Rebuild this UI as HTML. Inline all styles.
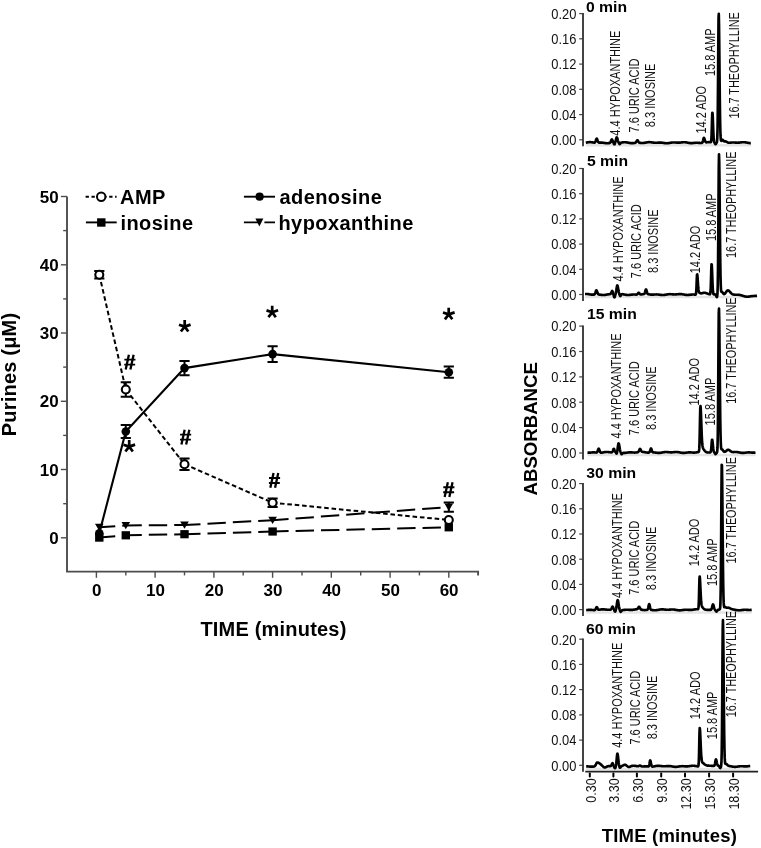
<!DOCTYPE html>
<html><head><meta charset="utf-8"><style>
html,body{margin:0;padding:0;background:#fff;}
svg{display:block;filter:grayscale(1);}
text{font-family:"Liberation Sans", sans-serif;fill:#000;}
.tl{font-size:17px;font-weight:bold;}
.tt{font-size:20px;font-weight:bold;}
.lg{font-size:20px;font-weight:bold;letter-spacing:0.45px;}
.yl{font-size:14.5px;fill:#111;}
.pt{font-size:15px;font-weight:bold;}
.pl{font-size:13.8px;fill:#111;}
.xl{font-size:14.5px;fill:#111;}
.rt{font-size:18.5px;font-weight:bold;letter-spacing:0.2px;}
</style></head><body>
<svg width="761" height="848" viewBox="0 0 761 848">
<rect width="761" height="848" fill="#fff"/>
<path d="M67.0,196.5 V571.6 H478.1 v3.8" fill="none" stroke="#4d4d4d" stroke-width="1.9"/>
<line x1="60.9" y1="537.8" x2="67.0" y2="537.8" stroke="#4d4d4d" stroke-width="1.4"/>
<line x1="63.2" y1="503.7" x2="67.0" y2="503.7" stroke="#4d4d4d" stroke-width="1.4"/>
<line x1="60.9" y1="469.5" x2="67.0" y2="469.5" stroke="#4d4d4d" stroke-width="1.4"/>
<line x1="63.2" y1="435.4" x2="67.0" y2="435.4" stroke="#4d4d4d" stroke-width="1.4"/>
<line x1="60.9" y1="401.3" x2="67.0" y2="401.3" stroke="#4d4d4d" stroke-width="1.4"/>
<line x1="63.2" y1="367.1" x2="67.0" y2="367.1" stroke="#4d4d4d" stroke-width="1.4"/>
<line x1="60.9" y1="333.0" x2="67.0" y2="333.0" stroke="#4d4d4d" stroke-width="1.4"/>
<line x1="63.2" y1="298.9" x2="67.0" y2="298.9" stroke="#4d4d4d" stroke-width="1.4"/>
<line x1="60.9" y1="264.8" x2="67.0" y2="264.8" stroke="#4d4d4d" stroke-width="1.4"/>
<line x1="63.2" y1="230.6" x2="67.0" y2="230.6" stroke="#4d4d4d" stroke-width="1.4"/>
<line x1="60.9" y1="196.5" x2="67.0" y2="196.5" stroke="#4d4d4d" stroke-width="1.4"/>
<text x="58.6" y="543.9" text-anchor="end" class="tl">0</text>
<text x="58.6" y="475.6" text-anchor="end" class="tl">10</text>
<text x="58.6" y="407.4" text-anchor="end" class="tl">20</text>
<text x="58.6" y="339.1" text-anchor="end" class="tl">30</text>
<text x="58.6" y="270.9" text-anchor="end" class="tl">40</text>
<text x="58.6" y="202.6" text-anchor="end" class="tl">50</text>
<line x1="96.4" y1="571.6" x2="96.4" y2="577.8000000000001" stroke="#4d4d4d" stroke-width="1.4"/>
<line x1="125.8" y1="571.6" x2="125.8" y2="575.4" stroke="#4d4d4d" stroke-width="1.4"/>
<line x1="155.1" y1="571.6" x2="155.1" y2="577.8000000000001" stroke="#4d4d4d" stroke-width="1.4"/>
<line x1="184.5" y1="571.6" x2="184.5" y2="575.4" stroke="#4d4d4d" stroke-width="1.4"/>
<line x1="213.9" y1="571.6" x2="213.9" y2="577.8000000000001" stroke="#4d4d4d" stroke-width="1.4"/>
<line x1="243.2" y1="571.6" x2="243.2" y2="575.4" stroke="#4d4d4d" stroke-width="1.4"/>
<line x1="272.6" y1="571.6" x2="272.6" y2="577.8000000000001" stroke="#4d4d4d" stroke-width="1.4"/>
<line x1="302.0" y1="571.6" x2="302.0" y2="575.4" stroke="#4d4d4d" stroke-width="1.4"/>
<line x1="331.3" y1="571.6" x2="331.3" y2="577.8000000000001" stroke="#4d4d4d" stroke-width="1.4"/>
<line x1="360.7" y1="571.6" x2="360.7" y2="575.4" stroke="#4d4d4d" stroke-width="1.4"/>
<line x1="390.1" y1="571.6" x2="390.1" y2="577.8000000000001" stroke="#4d4d4d" stroke-width="1.4"/>
<line x1="419.4" y1="571.6" x2="419.4" y2="575.4" stroke="#4d4d4d" stroke-width="1.4"/>
<line x1="448.8" y1="571.6" x2="448.8" y2="577.8000000000001" stroke="#4d4d4d" stroke-width="1.4"/>
<text x="96.7" y="595.8" text-anchor="middle" class="tl">0</text>
<text x="155.4" y="595.8" text-anchor="middle" class="tl">10</text>
<text x="214.2" y="595.8" text-anchor="middle" class="tl">20</text>
<text x="272.9" y="595.8" text-anchor="middle" class="tl">30</text>
<text x="331.6" y="595.8" text-anchor="middle" class="tl">40</text>
<text x="390.4" y="595.8" text-anchor="middle" class="tl">50</text>
<text x="449.1" y="595.8" text-anchor="middle" class="tl">60</text>
<text x="200.4" y="635.7" class="tt" letter-spacing="0.2">TIME (minutes)</text>
<text transform="translate(15.6,436.2) rotate(-90)" class="tt" letter-spacing="0.2">Purines (μM)</text>
<line x1="99.3" y1="537.6" x2="125.8" y2="535.3" stroke="#000" stroke-width="2" stroke-dasharray="18.4 7" stroke-dashoffset="2.4"/>
<line x1="125.8" y1="535.3" x2="184.5" y2="534.2" stroke="#000" stroke-width="2" stroke-dasharray="18.4 7" stroke-dashoffset="2.4"/>
<line x1="184.5" y1="534.2" x2="272.6" y2="531.5" stroke="#000" stroke-width="2" stroke-dasharray="18.4 7" stroke-dashoffset="2.4"/>
<line x1="272.6" y1="531.5" x2="448.8" y2="527.3" stroke="#000" stroke-width="2" stroke-dasharray="18.4 7" stroke-dashoffset="2.4"/>
<line x1="99.3" y1="527.2" x2="125.8" y2="525.5" stroke="#000" stroke-width="2" stroke-dasharray="18.4 7" stroke-dashoffset="2.4"/>
<line x1="125.8" y1="525.5" x2="184.5" y2="525.0" stroke="#000" stroke-width="2" stroke-dasharray="18.4 7" stroke-dashoffset="2.4"/>
<line x1="184.5" y1="525.0" x2="272.6" y2="520.2" stroke="#000" stroke-width="2" stroke-dasharray="18.4 7" stroke-dashoffset="2.4"/>
<line x1="272.6" y1="520.2" x2="448.8" y2="507.1" stroke="#000" stroke-width="2" stroke-dasharray="18.4 7" stroke-dashoffset="2.4"/>
<line x1="99.3" y1="274.7" x2="125.8" y2="389.5" stroke="#000" stroke-width="2" stroke-dasharray="4.6 2.8" stroke-dashoffset="0"/>
<line x1="125.8" y1="389.5" x2="184.5" y2="464.2" stroke="#000" stroke-width="2" stroke-dasharray="4.6 2.8" stroke-dashoffset="0"/>
<line x1="184.5" y1="464.2" x2="272.6" y2="502.7" stroke="#000" stroke-width="2" stroke-dasharray="4.6 2.8" stroke-dashoffset="0"/>
<line x1="272.6" y1="502.7" x2="448.8" y2="520.0" stroke="#000" stroke-width="2" stroke-dasharray="4.6 2.8" stroke-dashoffset="0"/>
<polyline points="99.3,533.2 125.8,431.5 184.5,368.1 272.6,354.1 448.8,372.2" fill="none" stroke="#000" stroke-width="2.1"/>
<path d="M448.8,502.5 V511.7 M443.7,502.5 h10.2 M443.7,511.7 h10.2" stroke="#000" stroke-width="2" fill="none"/>
<path d="M99.3,271.0 V278.4 M94.2,271.0 h10.2 M94.2,278.4 h10.2" stroke="#000" stroke-width="2" fill="none"/>
<path d="M125.8,382.2 V396.8 M120.7,382.2 h10.2 M120.7,396.8 h10.2" stroke="#000" stroke-width="2" fill="none"/>
<path d="M184.5,458.4 V469.9 M179.4,458.4 h10.2 M179.4,469.9 h10.2" stroke="#000" stroke-width="2" fill="none"/>
<path d="M272.6,498.4 V507.0 M267.5,498.4 h10.2 M267.5,507.0 h10.2" stroke="#000" stroke-width="2" fill="none"/>
<path d="M125.8,424.9 V438.1 M120.7,424.9 h10.2 M120.7,438.1 h10.2" stroke="#000" stroke-width="2" fill="none"/>
<path d="M184.5,361.0 V375.2 M179.4,361.0 h10.2 M179.4,375.2 h10.2" stroke="#000" stroke-width="2" fill="none"/>
<path d="M272.6,346.2 V362.1 M267.5,346.2 h10.2 M267.5,362.1 h10.2" stroke="#000" stroke-width="2" fill="none"/>
<path d="M448.8,366.6 V377.8 M443.7,366.6 h10.2 M443.7,377.8 h10.2" stroke="#000" stroke-width="2" fill="none"/>
<rect x="95.1" y="533.5" width="8.4" height="8.2" fill="#000"/>
<rect x="121.6" y="531.2" width="8.4" height="8.2" fill="#000"/>
<rect x="180.3" y="530.1" width="8.4" height="8.2" fill="#000"/>
<rect x="268.4" y="527.4" width="8.4" height="8.2" fill="#000"/>
<rect x="444.6" y="523.2" width="8.4" height="8.2" fill="#000"/>
<path d="M95.0,523.7 h8.6 l-4.3,7.3 z" fill="#000"/>
<path d="M121.5,522.0 h8.6 l-4.3,7.3 z" fill="#000"/>
<path d="M180.2,521.5 h8.6 l-4.3,7.3 z" fill="#000"/>
<path d="M268.3,516.7 h8.6 l-4.3,7.3 z" fill="#000"/>
<path d="M444.5,503.6 h8.6 l-4.3,7.3 z" fill="#000"/>
<circle cx="99.3" cy="274.7" r="4.0" fill="#fff" stroke="#000" stroke-width="2.1"/>
<circle cx="125.8" cy="389.5" r="4.0" fill="#fff" stroke="#000" stroke-width="2.1"/>
<circle cx="184.5" cy="464.2" r="4.0" fill="#fff" stroke="#000" stroke-width="2.1"/>
<circle cx="272.6" cy="502.7" r="4.0" fill="#fff" stroke="#000" stroke-width="2.1"/>
<circle cx="448.8" cy="520.0" r="4.0" fill="#fff" stroke="#000" stroke-width="2.1"/>
<circle cx="99.3" cy="533.2" r="4.3" fill="#000"/>
<circle cx="125.8" cy="431.5" r="4.3" fill="#000"/>
<circle cx="184.5" cy="368.1" r="4.3" fill="#000"/>
<circle cx="272.6" cy="354.1" r="4.3" fill="#000"/>
<circle cx="448.8" cy="372.2" r="4.3" fill="#000"/>
<path d="M128.90,354.70 L125.70,369.40 M133.60,354.70 L130.40,369.40" stroke="#000" stroke-width="2.3" fill="none"/><path d="M124.35,359.60 H135.45 M124.25,364.60 H135.15" stroke="#000" stroke-width="1.9" fill="none"/>
<path d="M184.65,429.70 L181.45,444.40 M189.35,429.70 L186.15,444.40" stroke="#000" stroke-width="2.3" fill="none"/><path d="M180.10,434.60 H191.20 M180.00,439.60 H190.90" stroke="#000" stroke-width="1.9" fill="none"/>
<path d="M273.55,473.10 L270.35,487.80 M278.25,473.10 L275.05,487.80" stroke="#000" stroke-width="2.3" fill="none"/><path d="M269.00,478.00 H280.10 M268.90,483.00 H279.80" stroke="#000" stroke-width="1.9" fill="none"/>
<path d="M447.85,482.30 L444.65,497.00 M452.55,482.30 L449.35,497.00" stroke="#000" stroke-width="2.3" fill="none"/><path d="M443.30,487.20 H454.40 M443.20,492.20 H454.10" stroke="#000" stroke-width="1.9" fill="none"/>
<path d="M129.20,446.60 L129.20,440.00 M129.20,446.60 L123.50,444.70 M129.20,446.60 L135.10,444.60 M129.20,446.60 L125.40,451.50 M129.20,446.60 L132.80,451.50" stroke="#000" stroke-width="2.7" fill="none"/>
<path d="M184.70,326.60 L184.70,320.00 M184.70,326.60 L179.00,324.70 M184.70,326.60 L190.60,324.60 M184.70,326.60 L180.90,331.50 M184.70,326.60 L188.30,331.50" stroke="#000" stroke-width="2.7" fill="none"/>
<path d="M272.20,312.30 L272.20,305.70 M272.20,312.30 L266.50,310.40 M272.20,312.30 L278.10,310.30 M272.20,312.30 L268.40,317.20 M272.20,312.30 L275.80,317.20" stroke="#000" stroke-width="2.7" fill="none"/>
<path d="M448.70,314.40 L448.70,307.80 M448.70,314.40 L443.00,312.50 M448.70,314.40 L454.60,312.40 M448.70,314.40 L444.90,319.30 M448.70,314.40 L452.30,319.30" stroke="#000" stroke-width="2.7" fill="none"/>
<line x1="85.6" y1="196.7" x2="116.6" y2="196.7" stroke="#000" stroke-width="1.9" stroke-dasharray="3.3 2.6"/>
<circle cx="101.2" cy="196.7" r="4.2" fill="#fff" stroke="#000" stroke-width="2"/>
<text x="120.1" y="203.9" class="lg">AMP</text>
<line x1="85.9" y1="222.4" x2="116.7" y2="222.4" stroke="#000" stroke-width="1.9"/>
<rect x="97.1" y="218.3" width="8.4" height="8.4" fill="#000"/>
<text x="120.4" y="229.9" class="lg">inosine</text>
<line x1="243.9" y1="196.7" x2="275" y2="196.7" stroke="#000" stroke-width="1.9"/>
<circle cx="259.6" cy="196.7" r="4.1" fill="#000"/>
<text x="279.4" y="203.9" class="lg">adenosine</text>
<line x1="243.9" y1="222.4" x2="275" y2="222.4" stroke="#000" stroke-width="1.9" stroke-dasharray="14.5 6"/>
<path d="M255.4,218.4 h8 l-4,8 z" fill="#000"/>
<text x="278.4" y="229.9" class="lg">hypoxanthine</text>
<line x1="579.2" y1="139.8" x2="583.0" y2="139.8" stroke="#444" stroke-width="1.2"/>
<text transform="translate(576.4,145.1) scale(0.89,1)" text-anchor="end" class="yl">0.00</text>
<line x1="579.2" y1="114.6" x2="583.0" y2="114.6" stroke="#444" stroke-width="1.2"/>
<text transform="translate(576.4,119.9) scale(0.89,1)" text-anchor="end" class="yl">0.04</text>
<line x1="579.2" y1="89.3" x2="583.0" y2="89.3" stroke="#444" stroke-width="1.2"/>
<text transform="translate(576.4,94.6) scale(0.89,1)" text-anchor="end" class="yl">0.08</text>
<line x1="579.2" y1="64.1" x2="583.0" y2="64.1" stroke="#444" stroke-width="1.2"/>
<text transform="translate(576.4,69.4) scale(0.89,1)" text-anchor="end" class="yl">0.12</text>
<line x1="579.2" y1="38.8" x2="583.0" y2="38.8" stroke="#444" stroke-width="1.2"/>
<text transform="translate(576.4,44.1) scale(0.89,1)" text-anchor="end" class="yl">0.16</text>
<line x1="579.2" y1="13.6" x2="583.0" y2="13.6" stroke="#444" stroke-width="1.2"/>
<text transform="translate(576.4,18.9) scale(0.89,1)" text-anchor="end" class="yl">0.20</text>
<line x1="583.0" y1="13.0" x2="583.0" y2="146.3" stroke="#3a3a3a" stroke-width="1.9"/>
<text transform="translate(586.0,12.2) scale(1.05,1)" class="pt">0 min</text>
<line x1="585.8" y1="145.3" x2="750.8" y2="145.3" stroke="#e4e4e4" stroke-width="2.5"/>
<polyline points="585.80,142.69 586.05,142.64 586.30,142.60 586.55,142.55 586.80,142.51 587.05,142.46 587.30,142.42 587.55,142.38 587.80,142.34 588.05,142.30 588.30,142.27 588.55,142.24 588.80,142.21 589.05,142.19 589.30,142.18 589.55,142.16 589.80,142.16 590.05,142.16 590.30,142.16 590.55,142.17 590.80,142.19 591.05,142.20 591.30,142.23 591.55,142.25 591.80,142.28 592.05,142.32 592.30,142.35 592.55,142.39 592.80,142.43 593.05,142.47 593.30,142.51 593.55,142.55 593.80,142.58 594.05,142.60 594.30,142.61 594.55,142.57 594.80,142.47 595.05,142.24 595.30,141.85 595.55,141.29 595.80,140.56 596.05,139.78 596.30,139.10 596.55,138.69 596.80,138.64 597.05,138.99 597.30,139.63 597.55,140.40 597.80,141.14 598.05,141.75 598.30,142.18 598.55,142.44 598.80,142.58 599.05,142.64 599.30,142.65 599.55,142.65 599.80,142.64 600.05,142.64 600.30,142.63 600.55,142.62 600.80,142.62 601.05,142.62 601.30,142.63 601.55,142.63 601.80,142.65 602.05,142.66 602.30,142.68 602.55,142.71 602.80,142.73 603.05,142.76 603.30,142.80 603.55,142.83 603.80,142.87 604.05,142.91 604.30,142.94 604.55,142.98 604.80,143.02 605.05,143.05 605.30,143.09 605.55,143.12 605.80,143.15 606.05,143.17 606.30,143.19 606.55,143.21 606.80,143.22 607.05,143.23 607.30,143.23 607.55,143.23 607.80,143.22 608.05,143.21 608.30,143.19 608.55,143.17 608.80,143.14 609.05,143.11 609.30,143.07 609.55,143.02 609.80,142.94 610.05,142.81 610.30,142.58 610.55,142.19 610.80,141.63 611.05,140.91 611.30,140.17 611.55,139.59 611.80,139.34 612.05,139.51 612.30,140.01 612.55,140.69 612.80,141.37 613.05,141.97 613.30,142.50 613.55,143.02 613.80,143.58 614.05,144.07 614.30,144.34 614.55,144.25 614.80,143.79 615.05,143.06 615.30,142.19 615.55,141.23 615.80,140.22 616.05,139.18 616.30,138.24 616.55,137.58 616.80,137.35 617.05,137.61 617.30,138.31 617.55,139.26 617.80,140.25 618.05,141.14 618.30,141.85 618.55,142.42 618.80,142.92 619.05,143.40 619.30,143.83 619.55,144.10 619.80,144.13 620.05,143.90 620.30,143.54 620.55,143.16 620.80,142.87 621.05,142.68 621.30,142.58 621.55,142.52 621.80,142.49 622.05,142.46 622.30,142.43 622.55,142.40 622.80,142.37 623.05,142.35 623.30,142.32 623.55,142.30 623.80,142.29 624.05,142.27 624.30,142.26 624.55,142.26 624.80,142.26 625.05,142.26 625.30,142.27 625.55,142.29 625.80,142.31 626.05,142.33 626.30,142.36 626.55,142.39 626.80,142.43 627.05,142.47 627.30,142.51 627.55,142.55 627.80,142.60 628.05,142.65 628.30,142.70 628.55,142.75 628.80,142.79 629.05,142.84 629.30,142.89 629.55,142.93 629.80,142.97 630.05,143.01 630.30,143.04 630.55,143.07 630.80,143.09 631.05,143.11 631.30,143.13 631.55,143.14 631.80,143.14 632.05,143.14 632.30,143.14 632.55,143.13 632.80,143.12 633.05,143.10 633.30,143.08 633.55,143.06 633.80,143.03 634.05,143.01 634.30,142.98 634.55,142.95 634.80,142.91 635.05,142.86 635.30,142.79 635.55,142.67 635.80,142.48 636.05,142.19 636.30,141.81 636.55,141.34 636.80,140.86 637.05,140.47 637.30,140.25 637.55,140.28 637.80,140.53 638.05,140.94 638.30,141.42 638.55,141.87 638.80,142.24 639.05,142.49 639.30,142.66 639.55,142.76 639.80,142.82 640.05,142.86 640.30,142.89 640.55,142.91 640.80,142.93 641.05,142.95 641.30,142.96 641.55,142.97 641.80,142.98 642.05,142.99 642.30,142.99 642.55,142.98 642.80,142.98 643.05,142.96 643.30,142.95 643.55,142.93 643.80,142.90 644.05,142.87 644.30,142.84 644.55,142.80 644.80,142.76 645.05,142.72 645.30,142.68 645.55,142.63 645.80,142.59 646.05,142.54 646.30,142.50 646.55,142.45 646.80,142.41 647.05,142.37 647.30,142.33 647.55,142.29 647.80,142.26 648.05,142.23 648.30,142.21 648.55,142.19 648.80,142.18 649.05,142.17 649.30,142.17 649.55,142.17 649.80,142.17 650.05,142.19 650.30,142.20 650.55,142.22 650.80,142.25 651.05,142.28 651.30,142.31 651.55,142.34 651.80,142.38 652.05,142.41 652.30,142.45 652.55,142.49 652.80,142.53 653.05,142.56 653.30,142.60 653.55,142.63 653.80,142.66 654.05,142.69 654.30,142.71 654.55,142.73 654.80,142.75 655.05,142.76 655.30,142.77 655.55,142.78 655.80,142.78 656.05,142.78 656.30,142.77 656.55,142.77 656.80,142.75 657.05,142.74 657.30,142.73 657.55,142.71 657.80,142.69 658.05,142.68 658.30,142.66 658.55,142.64 658.80,142.63 659.05,142.61 659.30,142.60 659.55,142.59 659.80,142.59 660.05,142.59 660.30,142.59 660.55,142.59 660.80,142.60 661.05,142.62 661.30,142.63 661.55,142.66 661.80,142.68 662.05,142.71 662.30,142.74 662.55,142.77 662.80,142.81 663.05,142.85 663.30,142.89 663.55,142.93 663.80,142.96 664.05,143.00 664.30,143.04 664.55,143.08 664.80,143.11 665.05,143.14 665.30,143.17 665.55,143.19 665.80,143.21 666.05,143.23 666.30,143.24 666.55,143.24 666.80,143.24 667.05,143.24 667.30,143.23 667.55,143.21 667.80,143.19 668.05,143.17 668.30,143.14 668.55,143.10 668.80,143.07 669.05,143.03 669.30,142.99 669.55,142.94 669.80,142.90 670.05,142.85 670.30,142.81 670.55,142.76 670.80,142.72 671.05,142.68 671.30,142.64 671.55,142.60 671.80,142.57 672.05,142.54 672.30,142.51 672.55,142.49 672.80,142.48 673.05,142.46 673.30,142.45 673.55,142.45 673.80,142.45 674.05,142.45 674.30,142.46 674.55,142.47 674.80,142.48 675.05,142.50 675.30,142.51 675.55,142.53 675.80,142.55 676.05,142.57 676.30,142.59 676.55,142.61 676.80,142.63 677.05,142.64 677.30,142.66 677.55,142.67 677.80,142.68 678.05,142.68 678.30,142.68 678.55,142.68 678.80,142.67 679.05,142.66 679.30,142.65 679.55,142.63 679.80,142.61 680.05,142.59 680.30,142.57 680.55,142.54 680.80,142.51 681.05,142.48 681.30,142.45 681.55,142.42 681.80,142.39 682.05,142.36 682.30,142.33 682.55,142.31 682.80,142.29 683.05,142.27 683.30,142.25 683.55,142.24 683.80,142.24 684.05,142.23 684.30,142.24 684.55,142.24 684.80,142.26 685.05,142.27 685.30,142.30 685.55,142.32 685.80,142.35 686.05,142.39 686.30,142.43 686.55,142.47 686.80,142.51 687.05,142.56 687.30,142.61 687.55,142.66 687.80,142.70 688.05,142.75 688.30,142.80 688.55,142.85 688.80,142.89 689.05,142.93 689.30,142.97 689.55,143.00 689.80,143.03 690.05,143.06 690.30,143.08 690.55,143.09 690.80,143.11 691.05,143.11 691.30,143.11 691.55,143.11 691.80,143.11 692.05,143.09 692.30,143.08 692.55,143.06 692.80,143.04 693.05,143.02 693.30,142.99 693.55,142.97 693.80,142.94 694.05,142.91 694.30,142.89 694.55,142.86 694.80,142.84 695.05,142.82 695.30,142.80 695.55,142.78 695.80,142.77 696.05,142.76 696.30,142.75 696.55,142.74 696.80,142.74 697.05,142.75 697.30,142.75 697.55,142.76 697.80,142.78 698.05,142.79 698.30,142.81 698.55,142.83 698.80,142.85 699.05,142.87 699.30,142.90 699.55,142.92 699.80,142.94 700.05,142.96 700.30,142.98 700.55,142.99 700.80,143.00 701.05,143.01 701.30,143.01 701.55,143.00 701.80,142.96 702.05,142.86 702.30,142.63 702.55,142.21 702.80,141.51 703.05,140.55 703.30,139.45 703.55,138.47 703.80,137.89 704.05,137.89 704.30,138.35 704.55,139.12 704.80,140.02 705.05,140.85 705.30,141.50 705.55,141.93 705.80,142.19 706.05,142.30 706.30,142.34 706.55,142.34 706.80,142.31 707.05,142.28 707.30,142.26 707.55,142.23 707.80,142.21 708.05,142.19 708.30,142.18 708.55,142.18 708.80,142.18 709.05,142.18 709.30,142.19 709.55,142.21 709.80,142.23 710.05,142.25 710.30,142.27 710.55,142.27 710.80,142.15 711.05,141.58 711.30,139.71 711.55,135.30 711.80,127.73 712.05,118.79 712.30,112.84 712.55,113.07 712.80,117.54 713.05,124.26 713.30,131.05 713.55,136.35 713.80,139.73 714.05,141.53 714.30,142.36 714.55,142.78 714.80,143.13 715.05,143.56 715.30,144.00 715.55,144.23 715.80,144.12 716.05,143.72 716.30,143.26 716.55,142.88 716.80,142.43 717.05,141.24 717.30,137.56 717.55,128.04 717.80,108.58 718.05,78.03 718.30,42.94 718.55,17.51 718.80,13.91 719.05,26.14 719.30,48.28 719.55,74.23 719.80,98.21 720.05,116.73 720.30,128.98 720.55,135.96 720.80,139.34 721.05,140.64 721.30,140.90 721.55,140.70 721.80,140.36 722.05,140.04 722.30,139.83 722.55,139.78 722.80,139.89 723.05,140.14 723.30,140.47 723.55,140.82 723.80,141.11 724.05,141.33 724.30,141.45 724.55,141.48 724.80,141.46 725.05,141.41 725.30,141.39 725.55,141.41 725.80,141.46 726.05,141.55 726.30,141.65 726.55,141.79 726.80,141.93 727.05,142.08 727.30,142.23 727.55,142.36 727.80,142.48 728.05,142.58 728.30,142.66 728.55,142.72 728.80,142.76 729.05,142.77 729.30,142.78 729.55,142.77 729.80,142.75 730.05,142.72 730.30,142.69 730.55,142.66 730.80,142.63 731.05,142.60 731.30,142.57 731.55,142.55 731.80,142.53 732.05,142.51 732.30,142.50 732.55,142.49 732.80,142.48 733.05,142.48 733.30,142.49 733.55,142.49 733.80,142.50 734.05,142.51 734.30,142.53 734.55,142.55 734.80,142.56 735.05,142.58 735.30,142.60 735.55,142.62 735.80,142.64 736.05,142.65 736.30,142.67 736.55,142.68 736.80,142.69 737.05,142.70 737.30,142.70 737.55,142.70 737.80,142.70 738.05,142.69 738.30,142.68 738.55,142.66 738.80,142.65 739.05,142.62 739.30,142.60 739.55,142.57 739.80,142.55 740.05,142.52 740.30,142.48 740.55,142.45 740.80,142.42 741.05,142.39 741.30,142.36 741.55,142.33 741.80,142.30 742.05,142.28 742.30,142.26 742.55,142.24 742.80,142.23 743.05,142.22 743.30,142.21 743.55,142.21 743.80,142.22 744.05,142.23 744.30,142.25 744.55,142.27 744.80,142.29 745.05,142.32 745.30,142.35 745.55,142.39 745.80,142.43 746.05,142.48 746.30,142.52 746.55,142.57 746.80,142.62 747.05,142.66 747.30,142.71 747.55,142.76 747.80,142.81 748.05,142.85 748.30,142.89 748.55,142.93 748.80,142.96 749.05,142.99 749.30,143.02 749.55,143.04 749.80,143.06 750.05,143.07 750.30,143.08 750.55,143.09 750.80,143.08" fill="none" stroke="#000" stroke-width="2.65" stroke-linejoin="round"/>
<line x1="579.2" y1="294.5" x2="583.0" y2="294.5" stroke="#444" stroke-width="1.2"/>
<text transform="translate(576.4,299.8) scale(0.89,1)" text-anchor="end" class="yl">0.00</text>
<line x1="579.2" y1="269.3" x2="583.0" y2="269.3" stroke="#444" stroke-width="1.2"/>
<text transform="translate(576.4,274.6) scale(0.89,1)" text-anchor="end" class="yl">0.04</text>
<line x1="579.2" y1="244.1" x2="583.0" y2="244.1" stroke="#444" stroke-width="1.2"/>
<text transform="translate(576.4,249.4) scale(0.89,1)" text-anchor="end" class="yl">0.08</text>
<line x1="579.2" y1="218.9" x2="583.0" y2="218.9" stroke="#444" stroke-width="1.2"/>
<text transform="translate(576.4,224.2) scale(0.89,1)" text-anchor="end" class="yl">0.12</text>
<line x1="579.2" y1="193.7" x2="583.0" y2="193.7" stroke="#444" stroke-width="1.2"/>
<text transform="translate(576.4,199.0) scale(0.89,1)" text-anchor="end" class="yl">0.16</text>
<line x1="579.2" y1="168.5" x2="583.0" y2="168.5" stroke="#444" stroke-width="1.2"/>
<text transform="translate(576.4,173.8) scale(0.89,1)" text-anchor="end" class="yl">0.20</text>
<line x1="583.0" y1="167.9" x2="583.0" y2="301.0" stroke="#3a3a3a" stroke-width="1.9"/>
<text transform="translate(587.0,165.8) scale(1.05,1)" class="pt">5 min</text>
<line x1="585.0" y1="297.1" x2="757.0" y2="297.1" stroke="#e4e4e4" stroke-width="2.5"/>
<polyline points="585.00,293.99 585.25,293.98 585.50,293.96 585.75,293.95 586.00,293.95 586.25,293.95 586.50,293.96 586.75,293.97 587.00,293.99 587.25,294.01 587.50,294.04 587.75,294.06 588.00,294.10 588.25,294.13 588.50,294.17 588.75,294.21 589.00,294.25 589.25,294.30 589.50,294.34 589.75,294.38 590.00,294.42 590.25,294.46 590.50,294.50 590.75,294.53 591.00,294.56 591.25,294.59 591.50,294.61 591.75,294.63 592.00,294.65 592.25,294.66 592.50,294.67 592.75,294.67 593.00,294.67 593.25,294.67 593.50,294.66 593.75,294.63 594.00,294.59 594.25,294.51 594.50,294.36 594.75,294.09 595.00,293.66 595.25,293.06 595.50,292.31 595.75,291.50 596.00,290.80 596.25,290.37 596.50,290.32 596.75,290.66 597.00,291.30 597.25,292.08 597.50,292.84 597.75,293.47 598.00,293.92 598.25,294.21 598.50,294.39 598.75,294.48 599.00,294.54 599.25,294.58 599.50,294.62 599.75,294.65 600.00,294.68 600.25,294.72 600.50,294.75 600.75,294.79 601.00,294.82 601.25,294.85 601.50,294.89 601.75,294.91 602.00,294.94 602.25,294.96 602.50,294.98 602.75,294.99 603.00,295.00 603.25,295.01 603.50,295.01 603.75,295.01 604.00,295.00 604.25,294.98 604.50,294.96 604.75,294.94 605.00,294.91 605.25,294.87 605.50,294.84 605.75,294.80 606.00,294.75 606.25,294.71 606.50,294.66 606.75,294.62 607.00,294.57 607.25,294.52 607.50,294.47 607.75,294.43 608.00,294.39 608.25,294.34 608.50,294.31 608.75,294.27 609.00,294.24 609.25,294.22 609.50,294.19 609.75,294.17 610.00,294.14 610.25,294.09 610.50,293.98 610.75,293.77 611.00,293.40 611.25,292.85 611.50,292.18 611.75,291.51 612.00,291.05 612.25,290.95 612.50,291.27 612.75,291.92 613.00,292.78 613.25,293.73 613.50,294.73 613.75,295.75 614.00,296.67 614.25,297.26 614.50,297.35 614.75,296.90 615.00,296.12 615.25,295.21 615.50,294.30 615.75,293.33 616.00,292.15 616.25,290.70 616.50,289.03 616.75,287.39 617.00,286.10 617.25,285.49 617.50,285.67 617.75,286.48 618.00,287.73 618.25,289.19 618.50,290.62 618.75,291.87 619.00,292.90 619.25,293.76 619.50,294.54 619.75,295.24 620.00,295.80 620.25,296.07 620.50,295.99 620.75,295.61 621.00,295.12 621.25,294.68 621.50,294.40 621.75,294.25 622.00,294.20 622.25,294.19 622.50,294.22 622.75,294.25 623.00,294.28 623.25,294.32 623.50,294.36 623.75,294.41 624.00,294.46 624.25,294.50 624.50,294.55 624.75,294.60 625.00,294.65 625.25,294.70 625.50,294.74 625.75,294.78 626.00,294.82 626.25,294.86 626.50,294.89 626.75,294.92 627.00,294.94 627.25,294.96 627.50,294.97 627.75,294.98 628.00,294.98 628.25,294.98 628.50,294.97 628.75,294.96 629.00,294.95 629.25,294.93 629.50,294.91 629.75,294.88 630.00,294.85 630.25,294.83 630.50,294.79 630.75,294.76 631.00,294.73 631.25,294.70 631.50,294.67 631.75,294.64 632.00,294.61 632.25,294.59 632.50,294.57 632.75,294.55 633.00,294.53 633.25,294.52 633.50,294.51 633.75,294.51 634.00,294.50 634.25,294.51 634.50,294.51 634.75,294.52 635.00,294.53 635.25,294.55 635.50,294.56 635.75,294.58 636.00,294.59 636.25,294.60 636.50,294.59 636.75,294.55 637.00,294.46 637.25,294.30 637.50,294.05 637.75,293.72 638.00,293.36 638.25,293.02 638.50,292.79 638.75,292.73 639.00,292.85 639.25,293.12 639.50,293.47 639.75,293.82 640.00,294.11 640.25,294.31 640.50,294.43 640.75,294.47 641.00,294.48 641.25,294.46 641.50,294.43 641.75,294.39 642.00,294.34 642.25,294.30 642.50,294.25 642.75,294.21 643.00,294.17 643.25,294.13 643.50,294.09 643.75,294.04 644.00,293.95 644.25,293.80 644.50,293.52 644.75,293.04 645.00,292.30 645.25,291.36 645.50,290.39 645.75,289.64 646.00,289.37 646.25,289.67 646.50,290.44 646.75,291.43 647.00,292.39 647.25,293.15 647.50,293.65 647.75,293.95 648.00,294.11 648.25,294.21 648.50,294.27 648.75,294.31 649.00,294.35 649.25,294.39 649.50,294.43 649.75,294.47 650.00,294.50 650.25,294.53 650.50,294.56 650.75,294.58 651.00,294.60 651.25,294.61 651.50,294.63 651.75,294.63 652.00,294.64 652.25,294.64 652.50,294.63 652.75,294.63 653.00,294.62 653.25,294.60 653.50,294.59 653.75,294.57 654.00,294.56 654.25,294.54 654.50,294.52 654.75,294.51 655.00,294.49 655.25,294.48 655.50,294.46 655.75,294.45 656.00,294.45 656.25,294.44 656.50,294.44 656.75,294.45 657.00,294.45 657.25,294.46 657.50,294.48 657.75,294.50 658.00,294.52 658.25,294.54 658.50,294.57 658.75,294.60 659.00,294.64 659.25,294.67 659.50,294.71 659.75,294.74 660.00,294.78 660.25,294.82 660.50,294.85 660.75,294.88 661.00,294.91 661.25,294.94 661.50,294.97 661.75,294.99 662.00,295.00 662.25,295.02 662.50,295.02 662.75,295.03 663.00,295.02 663.25,295.01 663.50,295.00 663.75,294.98 664.00,294.96 664.25,294.93 664.50,294.90 664.75,294.87 665.00,294.83 665.25,294.79 665.50,294.74 665.75,294.70 666.00,294.65 666.25,294.60 666.50,294.56 666.75,294.51 667.00,294.47 667.25,294.42 667.50,294.38 667.75,294.35 668.00,294.31 668.25,294.28 668.50,294.25 668.75,294.23 669.00,294.21 669.25,294.20 669.50,294.19 669.75,294.19 670.00,294.19 670.25,294.19 670.50,294.20 670.75,294.21 671.00,294.22 671.25,294.24 671.50,294.26 671.75,294.28 672.00,294.30 672.25,294.32 672.50,294.34 672.75,294.36 673.00,294.38 673.25,294.40 673.50,294.42 673.75,294.43 674.00,294.44 674.25,294.45 674.50,294.46 674.75,294.46 675.00,294.46 675.25,294.45 675.50,294.44 675.75,294.43 676.00,294.41 676.25,294.39 676.50,294.37 676.75,294.35 677.00,294.32 677.25,294.30 677.50,294.27 677.75,294.24 678.00,294.21 678.25,294.19 678.50,294.16 678.75,294.14 679.00,294.12 679.25,294.11 679.50,294.09 679.75,294.08 680.00,294.08 680.25,294.08 680.50,294.08 680.75,294.09 681.00,294.11 681.25,294.12 681.50,294.15 681.75,294.18 682.00,294.21 682.25,294.24 682.50,294.28 682.75,294.33 683.00,294.37 683.25,294.42 683.50,294.46 683.75,294.51 684.00,294.56 684.25,294.61 684.50,294.66 684.75,294.70 685.00,294.75 685.25,294.79 685.50,294.82 685.75,294.86 686.00,294.88 686.25,294.91 686.50,294.93 686.75,294.94 687.00,294.95 687.25,294.96 687.50,294.96 687.75,294.96 688.00,294.95 688.25,294.93 688.50,294.92 688.75,294.90 689.00,294.87 689.25,294.85 689.50,294.82 689.75,294.79 690.00,294.76 690.25,294.73 690.50,294.70 690.75,294.67 691.00,294.65 691.25,294.62 691.50,294.60 691.75,294.58 692.00,294.56 692.25,294.55 692.50,294.53 692.75,294.53 693.00,294.52 693.25,294.52 693.50,294.53 693.75,294.53 694.00,294.54 694.25,294.56 694.50,294.57 694.75,294.59 695.00,294.60 695.25,294.62 695.50,294.60 695.75,294.43 696.00,293.64 696.25,291.25 696.50,286.27 696.75,279.53 697.00,274.57 697.25,274.29 697.50,276.56 697.75,280.23 698.00,284.16 698.25,287.50 698.50,289.89 698.75,291.36 699.00,292.14 699.25,292.54 699.50,292.76 699.75,292.91 700.00,293.04 700.25,293.15 700.50,293.23 700.75,293.30 701.00,293.34 701.25,293.35 701.50,293.33 701.75,293.29 702.00,293.24 702.25,293.17 702.50,293.10 702.75,293.02 703.00,292.95 703.25,292.89 703.50,292.84 703.75,292.80 704.00,292.78 704.25,292.77 704.50,292.78 704.75,292.80 705.00,292.83 705.25,292.87 705.50,292.92 705.75,292.99 706.00,293.06 706.25,293.14 706.50,293.23 706.75,293.32 707.00,293.41 707.25,293.51 707.50,293.61 707.75,293.70 708.00,293.80 708.25,293.89 708.50,293.98 708.75,294.06 709.00,294.14 709.25,294.21 709.50,294.27 709.75,294.30 710.00,294.20 710.25,293.63 710.50,291.73 710.75,287.24 711.00,279.53 711.25,270.43 711.50,264.36 711.75,264.57 712.00,269.07 712.25,275.87 712.50,282.74 712.75,288.10 713.00,291.50 713.25,293.28 713.50,294.07 713.75,294.35 714.00,294.43 714.25,294.45 714.50,294.44 714.75,294.43 715.00,294.44 715.25,294.48 715.50,294.60 715.75,294.86 716.00,295.33 716.25,295.98 716.50,296.67 716.75,297.13 717.00,297.04 717.25,295.97 717.50,292.81 717.75,284.96 718.00,268.20 718.25,239.39 718.50,201.79 718.75,168.00 719.00,154.23 719.25,161.85 719.50,182.28 719.75,209.57 720.00,236.98 720.25,259.60 720.50,275.41 720.75,284.84 721.00,289.60 721.25,291.51 721.50,292.00 721.75,291.99 722.00,291.97 722.25,292.08 722.50,292.33 722.75,292.68 723.00,293.08 723.25,293.45 723.50,293.76 723.75,293.97 724.00,294.07 724.25,294.07 724.50,293.97 724.75,293.79 725.00,293.54 725.25,293.25 725.50,292.92 725.75,292.56 726.00,292.20 726.25,291.83 726.50,291.47 726.75,291.15 727.00,290.87 727.25,290.65 727.50,290.50 727.75,290.42 728.00,290.42 728.25,290.47 728.50,290.57 728.75,290.72 729.00,290.91 729.25,291.13 729.50,291.39 729.75,291.66 730.00,291.94 730.25,292.23 730.50,292.51 730.75,292.79 731.00,293.05 731.25,293.29 731.50,293.51 731.75,293.71 732.00,293.89 732.25,294.04 732.50,294.18 732.75,294.29 733.00,294.39 733.25,294.47 733.50,294.54 733.75,294.60 734.00,294.64 734.25,294.67 734.50,294.70 734.75,294.72 735.00,294.73 735.25,294.74 735.50,294.75 735.75,294.75 736.00,294.76 736.25,294.76 736.50,294.76 736.75,294.76 737.00,294.76 737.25,294.76 737.50,294.76 737.75,294.77 738.00,294.77 738.25,294.79 738.50,294.80 738.75,294.82 739.00,294.85 739.25,294.88 739.50,294.91 739.75,294.95 740.00,295.00 740.25,295.05 740.50,295.11 740.75,295.17 741.00,295.23 741.25,295.30 741.50,295.38 741.75,295.45 742.00,295.53 742.25,295.61 742.50,295.70 742.75,295.78 743.00,295.87 743.25,295.95 743.50,296.03 743.75,296.11 744.00,296.19 744.25,296.27 744.50,296.34 744.75,296.40 745.00,296.46 745.25,296.52 745.50,296.57 745.75,296.61 746.00,296.64 746.25,296.67 746.50,296.69 746.75,296.71 747.00,296.71 747.25,296.72 747.50,296.71 747.75,296.70 748.00,296.68 748.25,296.66 748.50,296.63 748.75,296.60 749.00,296.57 749.25,296.53 749.50,296.50 749.75,296.46 750.00,296.42 750.25,296.38 750.50,296.34 750.75,296.30 751.00,296.26 751.25,296.22 751.50,296.19 751.75,296.16 752.00,296.13 752.25,296.10 752.50,296.08 752.75,296.05 753.00,296.03 753.25,296.01 753.50,296.00 753.75,295.98 754.00,295.97 754.25,295.96 754.50,295.94 754.75,295.93 755.00,295.92 755.25,295.91 755.50,295.89 755.75,295.88 756.00,295.86 756.25,295.84 756.50,295.81 756.75,295.78 757.00,295.75" fill="none" stroke="#000" stroke-width="2.65" stroke-linejoin="round"/>
<line x1="579.2" y1="453.0" x2="583.0" y2="453.0" stroke="#444" stroke-width="1.2"/>
<text transform="translate(576.4,458.3) scale(0.89,1)" text-anchor="end" class="yl">0.00</text>
<line x1="579.2" y1="427.6" x2="583.0" y2="427.6" stroke="#444" stroke-width="1.2"/>
<text transform="translate(576.4,432.9) scale(0.89,1)" text-anchor="end" class="yl">0.04</text>
<line x1="579.2" y1="402.2" x2="583.0" y2="402.2" stroke="#444" stroke-width="1.2"/>
<text transform="translate(576.4,407.5) scale(0.89,1)" text-anchor="end" class="yl">0.08</text>
<line x1="579.2" y1="376.9" x2="583.0" y2="376.9" stroke="#444" stroke-width="1.2"/>
<text transform="translate(576.4,382.2) scale(0.89,1)" text-anchor="end" class="yl">0.12</text>
<line x1="579.2" y1="351.5" x2="583.0" y2="351.5" stroke="#444" stroke-width="1.2"/>
<text transform="translate(576.4,356.8) scale(0.89,1)" text-anchor="end" class="yl">0.16</text>
<line x1="579.2" y1="326.1" x2="583.0" y2="326.1" stroke="#444" stroke-width="1.2"/>
<text transform="translate(576.4,331.4) scale(0.89,1)" text-anchor="end" class="yl">0.20</text>
<line x1="583.0" y1="325.5" x2="583.0" y2="459.5" stroke="#3a3a3a" stroke-width="1.9"/>
<text transform="translate(587.0,319.0) scale(1.05,1)" class="pt">15 min</text>
<line x1="587.5" y1="455.0" x2="755.5" y2="455.0" stroke="#e4e4e4" stroke-width="2.5"/>
<polyline points="587.50,452.55 587.75,452.57 588.00,452.59 588.25,452.61 588.50,452.62 588.75,452.63 589.00,452.63 589.25,452.63 589.50,452.63 589.75,452.62 590.00,452.61 590.25,452.60 590.50,452.58 590.75,452.57 591.00,452.55 591.25,452.53 591.50,452.51 591.75,452.49 592.00,452.47 592.25,452.46 592.50,452.44 592.75,452.43 593.00,452.42 593.25,452.41 593.50,452.41 593.75,452.41 594.00,452.41 594.25,452.42 594.50,452.43 594.75,452.45 595.00,452.47 595.25,452.49 595.50,452.51 595.75,452.53 596.00,452.55 596.25,452.56 596.50,452.53 596.75,452.44 597.00,452.25 597.25,451.91 597.50,451.39 597.75,450.70 598.00,449.94 598.25,449.24 598.50,448.77 598.75,448.67 599.00,448.95 599.25,449.56 599.50,450.33 599.75,451.10 600.00,451.74 600.25,452.21 600.50,452.50 600.75,452.66 601.00,452.72 601.25,452.73 601.50,452.71 601.75,452.68 602.00,452.64 602.25,452.59 602.50,452.55 602.75,452.50 603.00,452.45 603.25,452.40 603.50,452.35 603.75,452.31 604.00,452.26 604.25,452.22 604.50,452.18 604.75,452.14 605.00,452.11 605.25,452.08 605.50,452.05 605.75,452.03 606.00,452.02 606.25,452.01 606.50,452.00 606.75,452.00 607.00,452.00 607.25,452.01 607.50,452.02 607.75,452.04 608.00,452.05 608.25,452.07 608.50,452.10 608.75,452.12 609.00,452.15 609.25,452.17 609.50,452.20 609.75,452.22 610.00,452.25 610.25,452.27 610.50,452.29 610.75,452.31 611.00,452.32 611.25,452.33 611.50,452.33 611.75,452.30 612.00,452.22 612.25,452.05 612.50,451.72 612.75,451.20 613.00,450.50 613.25,449.74 613.50,449.10 613.75,448.78 614.00,448.89 614.25,449.39 614.50,450.09 614.75,450.80 615.00,451.38 615.25,451.80 615.50,452.13 615.75,452.45 616.00,452.84 616.25,453.27 616.50,453.55 616.75,453.45 617.00,452.76 617.25,451.46 617.50,449.67 617.75,447.65 618.00,445.73 618.25,444.23 618.50,443.45 618.75,443.51 619.00,444.24 619.25,445.47 619.50,446.95 619.75,448.45 620.00,449.79 620.25,450.90 620.50,451.80 620.75,452.56 621.00,453.22 621.25,453.76 621.50,454.09 621.75,454.13 622.00,453.93 622.25,453.61 622.50,453.30 622.75,453.08 623.00,452.96 623.25,452.92 623.50,452.91 623.75,452.91 624.00,452.91 624.25,452.91 624.50,452.91 624.75,452.90 625.00,452.89 625.25,452.87 625.50,452.84 625.75,452.82 626.00,452.79 626.25,452.76 626.50,452.73 626.75,452.69 627.00,452.66 627.25,452.62 627.50,452.59 627.75,452.55 628.00,452.52 628.25,452.49 628.50,452.46 628.75,452.44 629.00,452.42 629.25,452.40 629.50,452.38 629.75,452.37 630.00,452.37 630.25,452.36 630.50,452.36 630.75,452.37 631.00,452.37 631.25,452.38 631.50,452.40 631.75,452.41 632.00,452.43 632.25,452.44 632.50,452.46 632.75,452.48 633.00,452.50 633.25,452.51 633.50,452.53 633.75,452.54 634.00,452.55 634.25,452.56 634.50,452.56 634.75,452.56 635.00,452.56 635.25,452.55 635.50,452.54 635.75,452.53 636.00,452.51 636.25,452.48 636.50,452.46 636.75,452.43 637.00,452.39 637.25,452.35 637.50,452.30 637.75,452.22 638.00,452.11 638.25,451.92 638.50,451.64 638.75,451.23 639.00,450.70 639.25,450.10 639.50,449.53 639.75,449.11 640.00,448.94 640.25,449.05 640.50,449.42 640.75,449.94 641.00,450.49 641.25,450.97 641.50,451.33 641.75,451.58 642.00,451.73 642.25,451.82 642.50,451.87 642.75,451.91 643.00,451.94 643.25,451.97 643.50,452.01 643.75,452.05 644.00,452.09 644.25,452.13 644.50,452.17 644.75,452.21 645.00,452.26 645.25,452.30 645.50,452.34 645.75,452.38 646.00,452.42 646.25,452.45 646.50,452.48 646.75,452.51 647.00,452.54 647.25,452.56 647.50,452.57 647.75,452.59 648.00,452.59 648.25,452.60 648.50,452.59 648.75,452.57 649.00,452.52 649.25,452.40 649.50,452.16 649.75,451.74 650.00,451.09 650.25,450.26 650.50,449.40 650.75,448.73 651.00,448.46 651.25,448.69 651.50,449.33 651.75,450.16 652.00,450.96 652.25,451.58 652.50,451.99 652.75,452.21 653.00,452.32 653.25,452.37 653.50,452.40 653.75,452.41 654.00,452.43 654.25,452.45 654.50,452.47 654.75,452.50 655.00,452.53 655.25,452.56 655.50,452.59 655.75,452.62 656.00,452.66 656.25,452.69 656.50,452.72 656.75,452.75 657.00,452.78 657.25,452.81 657.50,452.83 657.75,452.85 658.00,452.87 658.25,452.88 658.50,452.89 658.75,452.90 659.00,452.90 659.25,452.89 659.50,452.88 659.75,452.86 660.00,452.84 660.25,452.82 660.50,452.79 660.75,452.75 661.00,452.72 661.25,452.67 661.50,452.63 661.75,452.59 662.00,452.54 662.25,452.49 662.50,452.44 662.75,452.39 663.00,452.35 663.25,452.30 663.50,452.26 663.75,452.22 664.00,452.18 664.25,452.15 664.50,452.12 664.75,452.09 665.00,452.07 665.25,452.05 665.50,452.04 665.75,452.03 666.00,452.03 666.25,452.03 666.50,452.04 666.75,452.05 667.00,452.06 667.25,452.08 667.50,452.09 667.75,452.12 668.00,452.14 668.25,452.16 668.50,452.19 668.75,452.21 669.00,452.23 669.25,452.26 669.50,452.28 669.75,452.30 670.00,452.31 670.25,452.33 670.50,452.34 670.75,452.35 671.00,452.35 671.25,452.35 671.50,452.35 671.75,452.34 672.00,452.33 672.25,452.32 672.50,452.30 672.75,452.28 673.00,452.26 673.25,452.24 673.50,452.22 673.75,452.19 674.00,452.17 674.25,452.14 674.50,452.12 674.75,452.10 675.00,452.08 675.25,452.06 675.50,452.05 675.75,452.04 676.00,452.03 676.25,452.03 676.50,452.03 676.75,452.04 677.00,452.05 677.25,452.06 677.50,452.09 677.75,452.11 678.00,452.14 678.25,452.17 678.50,452.21 678.75,452.25 679.00,452.29 679.25,452.34 679.50,452.38 679.75,452.43 680.00,452.48 680.25,452.53 680.50,452.57 680.75,452.62 681.00,452.66 681.25,452.71 681.50,452.74 681.75,452.78 682.00,452.81 682.25,452.84 682.50,452.86 682.75,452.88 683.00,452.89 683.25,452.90 683.50,452.90 683.75,452.89 684.00,452.89 684.25,452.88 684.50,452.86 684.75,452.84 685.00,452.82 685.25,452.79 685.50,452.76 685.75,452.73 686.00,452.70 686.25,452.66 686.50,452.63 686.75,452.60 687.00,452.57 687.25,452.54 687.50,452.51 687.75,452.48 688.00,452.46 688.25,452.44 688.50,452.42 688.75,452.41 689.00,452.40 689.25,452.39 689.50,452.39 689.75,452.39 690.00,452.39 690.25,452.40 690.50,452.41 690.75,452.43 691.00,452.44 691.25,452.46 691.50,452.47 691.75,452.49 692.00,452.51 692.25,452.53 692.50,452.55 692.75,452.56 693.00,452.57 693.25,452.59 693.50,452.59 693.75,452.60 694.00,452.60 694.25,452.60 694.50,452.59 694.75,452.58 695.00,452.56 695.25,452.54 695.50,452.52 695.75,452.49 696.00,452.46 696.25,452.43 696.50,452.39 696.75,452.35 697.00,452.31 697.25,452.27 697.50,452.22 697.75,452.18 698.00,452.14 698.25,452.09 698.50,452.01 698.75,451.80 699.00,451.05 699.25,448.67 699.50,442.86 699.75,432.29 700.00,418.73 700.25,408.08 700.50,405.97 700.75,408.77 701.00,414.43 701.25,421.60 701.50,428.90 701.75,435.29 702.00,440.27 702.25,443.76 702.50,445.96 702.75,447.28 703.00,448.08 703.25,448.61 703.50,449.03 703.75,449.40 704.00,449.76 704.25,450.10 704.50,450.44 704.75,450.76 705.00,451.05 705.25,451.32 705.50,451.55 705.75,451.76 706.00,451.94 706.25,452.08 706.50,452.20 706.75,452.30 707.00,452.38 707.25,452.43 707.50,452.47 707.75,452.50 708.00,452.52 708.25,452.52 708.50,452.52 708.75,452.52 709.00,452.51 709.25,452.50 709.50,452.48 709.75,452.46 710.00,452.44 710.25,452.39 710.50,452.23 710.75,451.77 711.00,450.65 711.25,448.50 711.50,445.31 711.75,441.91 712.00,439.77 712.25,439.82 712.50,441.27 712.75,443.59 713.00,446.17 713.25,448.46 713.50,450.19 713.75,451.32 714.00,451.98 714.25,452.37 714.50,452.67 714.75,453.04 715.00,453.52 715.25,453.97 715.50,454.18 715.75,454.04 716.00,453.66 716.25,453.27 716.50,453.00 716.75,452.83 717.00,452.51 717.25,451.27 717.50,447.20 717.75,436.56 718.00,414.77 718.25,380.54 718.50,341.22 718.75,312.71 719.00,308.52 719.25,320.64 719.50,342.99 719.75,370.02 720.00,396.12 720.25,417.44 720.50,432.50 720.75,441.74 721.00,446.61 721.25,448.70 721.50,449.32 721.75,449.37 722.00,449.35 722.25,449.46 722.50,449.69 722.75,450.03 723.00,450.43 723.25,450.83 723.50,451.19 723.75,451.47 724.00,451.66 724.25,451.77 724.50,451.82 724.75,451.80 725.00,451.74 725.25,451.64 725.50,451.50 725.75,451.33 726.00,451.14 726.25,450.92 726.50,450.69 726.75,450.45 727.00,450.23 727.25,450.03 727.50,449.87 727.75,449.77 728.00,449.73 728.25,449.76 728.50,449.82 728.75,449.92 729.00,450.05 729.25,450.20 729.50,450.38 729.75,450.57 730.00,450.76 730.25,450.95 730.50,451.13 730.75,451.31 731.00,451.46 731.25,451.60 731.50,451.72 731.75,451.82 732.00,451.90 732.25,451.96 732.50,452.01 732.75,452.04 733.00,452.05 733.25,452.06 733.50,452.06 733.75,452.06 734.00,452.05 734.25,452.04 734.50,452.02 734.75,452.01 735.00,452.01 735.25,452.00 735.50,452.00 735.75,452.00 736.00,452.00 736.25,452.01 736.50,452.03 736.75,452.05 737.00,452.07 737.25,452.10 737.50,452.13 737.75,452.17 738.00,452.21 738.25,452.25 738.50,452.30 738.75,452.34 739.00,452.39 739.25,452.44 739.50,452.49 739.75,452.54 740.00,452.58 740.25,452.63 740.50,452.67 740.75,452.71 741.00,452.75 741.25,452.78 741.50,452.81 741.75,452.83 742.00,452.85 742.25,452.86 742.50,452.87 742.75,452.88 743.00,452.88 743.25,452.87 743.50,452.86 743.75,452.85 744.00,452.83 744.25,452.81 744.50,452.78 744.75,452.76 745.00,452.73 745.25,452.70 745.50,452.67 745.75,452.63 746.00,452.60 746.25,452.57 746.50,452.54 746.75,452.52 747.00,452.49 747.25,452.47 747.50,452.45 747.75,452.44 748.00,452.42 748.25,452.42 748.50,452.41 748.75,452.41 749.00,452.41 749.25,452.42 749.50,452.43 749.75,452.44 750.00,452.45 750.25,452.47 750.50,452.49 750.75,452.50 751.00,452.52 751.25,452.54 751.50,452.56 751.75,452.58 752.00,452.59 752.25,452.61 752.50,452.62 752.75,452.63 753.00,452.63 753.25,452.63 753.50,452.63 753.75,452.62 754.00,452.61 754.25,452.60 754.50,452.58 754.75,452.56 755.00,452.53 755.25,452.50 755.50,452.46" fill="none" stroke="#000" stroke-width="2.65" stroke-linejoin="round"/>
<line x1="579.2" y1="609.6" x2="583.0" y2="609.6" stroke="#444" stroke-width="1.2"/>
<text transform="translate(576.4,614.9) scale(0.89,1)" text-anchor="end" class="yl">0.00</text>
<line x1="579.2" y1="584.4" x2="583.0" y2="584.4" stroke="#444" stroke-width="1.2"/>
<text transform="translate(576.4,589.7) scale(0.89,1)" text-anchor="end" class="yl">0.04</text>
<line x1="579.2" y1="559.2" x2="583.0" y2="559.2" stroke="#444" stroke-width="1.2"/>
<text transform="translate(576.4,564.5) scale(0.89,1)" text-anchor="end" class="yl">0.08</text>
<line x1="579.2" y1="534.0" x2="583.0" y2="534.0" stroke="#444" stroke-width="1.2"/>
<text transform="translate(576.4,539.3) scale(0.89,1)" text-anchor="end" class="yl">0.12</text>
<line x1="579.2" y1="508.8" x2="583.0" y2="508.8" stroke="#444" stroke-width="1.2"/>
<text transform="translate(576.4,514.1) scale(0.89,1)" text-anchor="end" class="yl">0.16</text>
<line x1="579.2" y1="483.6" x2="583.0" y2="483.6" stroke="#444" stroke-width="1.2"/>
<text transform="translate(576.4,488.9) scale(0.89,1)" text-anchor="end" class="yl">0.20</text>
<line x1="583.0" y1="483.0" x2="583.0" y2="616.1" stroke="#3a3a3a" stroke-width="1.9"/>
<text transform="translate(586.3,478.2) scale(1.05,1)" class="pt">30 min</text>
<line x1="586.2" y1="612.4" x2="751.7" y2="612.4" stroke="#e4e4e4" stroke-width="2.5"/>
<polyline points="586.20,610.07 586.45,610.06 586.70,610.04 586.95,610.02 587.20,610.00 587.45,609.98 587.70,609.96 587.95,609.94 588.20,609.92 588.45,609.90 588.70,609.88 588.95,609.87 589.20,609.86 589.45,609.85 589.70,609.84 589.95,609.84 590.20,609.84 590.45,609.84 590.70,609.85 590.95,609.86 591.20,609.88 591.45,609.89 591.70,609.91 591.95,609.94 592.20,609.96 592.45,609.99 592.70,610.02 592.95,610.04 593.20,610.07 593.45,610.10 593.70,610.12 593.95,610.14 594.20,610.15 594.45,610.13 594.70,610.07 594.95,609.94 595.20,609.70 595.45,609.32 595.70,608.82 595.95,608.23 596.20,607.67 596.45,607.25 596.70,607.09 596.95,607.21 597.20,607.58 597.45,608.10 597.70,608.65 597.95,609.11 598.20,609.45 598.45,609.65 598.70,609.75 598.95,609.78 599.20,609.77 599.45,609.74 599.70,609.69 599.95,609.65 600.20,609.60 600.45,609.56 600.70,609.52 600.95,609.49 601.20,609.45 601.45,609.42 601.70,609.40 601.95,609.38 602.20,609.37 602.45,609.36 602.70,609.35 602.95,609.35 603.20,609.36 603.45,609.37 603.70,609.38 603.95,609.40 604.20,609.42 604.45,609.44 604.70,609.46 604.95,609.49 605.20,609.52 605.45,609.55 605.70,609.58 605.95,609.61 606.20,609.63 606.45,609.66 606.70,609.68 606.95,609.71 607.20,609.72 607.45,609.74 607.70,609.75 607.95,609.76 608.20,609.77 608.45,609.77 608.70,609.77 608.95,609.76 609.20,609.75 609.45,609.74 609.70,609.73 609.95,609.71 610.20,609.68 610.45,609.63 610.70,609.55 610.95,609.38 611.20,609.08 611.45,608.62 611.70,608.02 611.95,607.36 612.20,606.81 612.45,606.54 612.70,606.65 612.95,607.09 613.20,607.72 613.45,608.38 613.70,608.97 613.95,609.51 614.20,610.05 614.45,610.63 614.70,611.18 614.95,611.54 615.20,611.56 615.45,611.20 615.70,610.52 615.95,609.60 616.20,608.48 616.45,607.08 616.70,605.40 616.95,603.54 617.20,601.79 617.45,600.53 617.70,600.10 617.95,600.52 618.20,601.61 618.45,603.15 618.70,604.86 618.95,606.48 619.20,607.87 619.45,608.97 619.70,609.85 619.95,610.58 620.20,611.19 620.45,611.62 620.70,611.79 620.95,611.67 621.20,611.35 621.45,610.96 621.70,610.62 621.95,610.39 622.20,610.26 622.45,610.18 622.70,610.13 622.95,610.08 623.20,610.05 623.45,610.01 623.70,609.97 623.95,609.93 624.20,609.90 624.45,609.86 624.70,609.83 624.95,609.81 625.20,609.78 625.45,609.76 625.70,609.74 625.95,609.73 626.20,609.72 626.45,609.71 626.70,609.71 626.95,609.71 627.20,609.72 627.45,609.73 627.70,609.74 627.95,609.75 628.20,609.76 628.45,609.78 628.70,609.80 628.95,609.82 629.20,609.83 629.45,609.85 629.70,609.86 629.95,609.88 630.20,609.89 630.45,609.90 630.70,609.90 630.95,609.90 631.20,609.90 631.45,609.90 631.70,609.89 631.95,609.87 632.20,609.86 632.45,609.84 632.70,609.81 632.95,609.78 633.20,609.75 633.45,609.72 633.70,609.68 633.95,609.65 634.20,609.61 634.45,609.57 634.70,609.53 634.95,609.49 635.20,609.46 635.45,609.42 635.70,609.39 635.95,609.36 636.20,609.33 636.45,609.30 636.70,609.26 636.95,609.20 637.20,609.11 637.45,608.95 637.70,608.70 637.95,608.34 638.20,607.90 638.45,607.42 638.70,607.02 638.95,606.78 639.20,606.79 639.45,607.04 639.70,607.48 639.95,608.00 640.20,608.51 640.45,608.94 640.70,609.26 640.95,609.48 641.20,609.62 641.45,609.71 641.70,609.78 641.95,609.83 642.20,609.87 642.45,609.91 642.70,609.94 642.95,609.97 643.20,609.99 643.45,610.02 643.70,610.03 643.95,610.05 644.20,610.06 644.45,610.06 644.70,610.06 644.95,610.06 645.20,610.05 645.45,610.04 645.70,610.03 645.95,610.01 646.20,609.99 646.45,609.97 646.70,609.95 646.95,609.90 647.20,609.82 647.45,609.65 647.70,609.30 647.95,608.71 648.20,607.79 648.45,606.63 648.70,605.41 648.95,604.48 649.20,604.12 649.45,604.48 649.70,605.41 649.95,606.63 650.20,607.80 650.45,608.71 650.70,609.31 650.95,609.66 651.20,609.84 651.45,609.93 651.70,609.98 651.95,610.02 652.20,610.05 652.45,610.08 652.70,610.11 652.95,610.14 653.20,610.16 653.45,610.19 653.70,610.21 653.95,610.23 654.20,610.24 654.45,610.25 654.70,610.26 654.95,610.26 655.20,610.26 655.45,610.25 655.70,610.24 655.95,610.22 656.20,610.20 656.45,610.17 656.70,610.14 656.95,610.10 657.20,610.06 657.45,610.02 657.70,609.98 657.95,609.93 658.20,609.88 658.45,609.83 658.70,609.79 658.95,609.74 659.20,609.69 659.45,609.64 659.70,609.60 659.95,609.56 660.20,609.52 660.45,609.49 660.70,609.46 660.95,609.43 661.20,609.41 661.45,609.40 661.70,609.39 661.95,609.38 662.20,609.38 662.45,609.38 662.70,609.39 662.95,609.40 663.20,609.41 663.45,609.43 663.70,609.45 663.95,609.48 664.20,609.50 664.45,609.53 664.70,609.56 664.95,609.58 665.20,609.61 665.45,609.64 665.70,609.66 665.95,609.68 666.20,609.70 666.45,609.72 666.70,609.73 666.95,609.75 667.20,609.75 667.45,609.76 667.70,609.76 667.95,609.75 668.20,609.75 668.45,609.74 668.70,609.73 668.95,609.71 669.20,609.69 669.45,609.67 669.70,609.65 669.95,609.63 670.20,609.61 670.45,609.59 670.70,609.57 670.95,609.55 671.20,609.53 671.45,609.52 671.70,609.50 671.95,609.49 672.20,609.49 672.45,609.49 672.70,609.49 672.95,609.50 673.20,609.51 673.45,609.52 673.70,609.54 673.95,609.57 674.20,609.60 674.45,609.63 674.70,609.67 674.95,609.71 675.20,609.75 675.45,609.79 675.70,609.84 675.95,609.88 676.20,609.93 676.45,609.98 676.70,610.02 676.95,610.07 677.20,610.11 677.45,610.15 677.70,610.19 677.95,610.22 678.20,610.25 678.45,610.27 678.70,610.29 678.95,610.31 679.20,610.32 679.45,610.32 679.70,610.32 679.95,610.32 680.20,610.31 680.45,610.29 680.70,610.28 680.95,610.25 681.20,610.23 681.45,610.20 681.70,610.16 681.95,610.13 682.20,610.10 682.45,610.06 682.70,610.02 682.95,609.99 683.20,609.95 683.45,609.92 683.70,609.89 683.95,609.86 684.20,609.83 684.45,609.81 684.70,609.79 684.95,609.77 685.20,609.76 685.45,609.75 685.70,609.74 685.95,609.74 686.20,609.74 686.45,609.75 686.70,609.76 686.95,609.77 687.20,609.78 687.45,609.80 687.70,609.81 687.95,609.83 688.20,609.85 688.45,609.87 688.70,609.88 688.95,609.90 689.20,609.91 689.45,609.92 689.70,609.93 689.95,609.94 690.20,609.94 690.45,609.94 690.70,609.93 690.95,609.92 691.20,609.91 691.45,609.89 691.70,609.87 691.95,609.84 692.20,609.81 692.45,609.78 692.70,609.75 692.95,609.71 693.20,609.67 693.45,609.63 693.70,609.59 693.95,609.55 694.20,609.51 694.45,609.47 694.70,609.43 694.95,609.40 695.20,609.37 695.45,609.34 695.70,609.31 695.95,609.29 696.20,609.27 696.45,609.26 696.70,609.25 696.95,609.25 697.20,609.25 697.45,609.26 697.70,609.26 697.95,609.23 698.20,609.00 698.45,608.00 698.70,604.83 698.95,597.78 699.20,587.34 699.45,578.36 699.70,576.48 699.95,578.66 700.20,583.08 700.45,588.58 700.70,594.01 700.95,598.60 701.20,602.01 701.45,604.23 701.70,605.56 701.95,606.35 702.20,606.85 702.45,607.21 702.70,607.52 702.95,607.82 703.20,608.10 703.45,608.37 703.70,608.62 703.95,608.85 704.20,609.05 704.45,609.23 704.70,609.37 704.95,609.50 705.20,609.59 705.45,609.67 705.70,609.72 705.95,609.76 706.20,609.79 706.45,609.80 706.70,609.81 706.95,609.81 707.20,609.81 707.45,609.81 707.70,609.80 707.95,609.80 708.20,609.80 708.45,609.80 708.70,609.81 708.95,609.81 709.20,609.82 709.45,609.84 709.70,609.86 709.95,609.87 710.20,609.89 710.45,609.89 710.70,609.86 710.95,609.77 711.20,609.56 711.45,609.16 711.70,608.53 711.95,607.66 712.20,606.62 712.45,605.59 712.70,604.79 712.95,604.43 713.20,604.58 713.45,605.14 713.70,605.98 713.95,606.96 714.20,607.90 714.45,608.70 714.70,609.32 714.95,609.76 715.20,610.10 715.45,610.41 715.70,610.75 715.95,611.13 716.20,611.45 716.45,611.59 716.70,611.48 716.95,611.15 717.20,610.73 717.45,610.35 717.70,610.08 717.95,609.91 718.20,609.80 718.45,609.74 718.70,609.69 718.95,609.64 719.20,609.60 719.45,609.55 719.70,609.43 719.95,608.98 720.20,607.33 720.45,602.21 720.70,589.52 720.95,564.86 721.20,528.28 721.45,489.27 721.70,464.72 721.95,465.22 722.20,481.82 722.45,508.37 722.70,537.81 722.95,563.97 723.20,583.52 723.45,596.03 723.70,602.90 723.95,606.04 724.20,607.12 724.45,607.24 724.70,607.05 724.95,606.90 725.20,606.88 725.45,606.97 725.70,607.15 725.95,607.36 726.20,607.55 726.45,607.70 726.70,607.79 726.95,607.81 727.20,607.79 727.45,607.74 727.70,607.70 727.95,607.68 728.20,607.69 728.45,607.72 728.70,607.77 728.95,607.85 729.20,607.94 729.45,608.05 729.70,608.17 729.95,608.30 730.20,608.43 730.45,608.56 730.70,608.68 730.95,608.80 731.20,608.91 731.45,609.00 731.70,609.09 731.95,609.17 732.20,609.24 732.45,609.30 732.70,609.36 732.95,609.41 733.20,609.46 733.45,609.51 733.70,609.56 733.95,609.60 734.20,609.65 734.45,609.70 734.70,609.75 734.95,609.79 735.20,609.84 735.45,609.89 735.70,609.94 735.95,609.99 736.20,610.03 736.45,610.08 736.70,610.12 736.95,610.16 737.20,610.19 737.45,610.22 737.70,610.25 737.95,610.27 738.20,610.29 738.45,610.30 738.70,610.31 738.95,610.31 739.20,610.31 739.45,610.30 739.70,610.29 739.95,610.27 740.20,610.25 740.45,610.23 740.70,610.20 740.95,610.17 741.20,610.14 741.45,610.10 741.70,610.07 741.95,610.03 742.20,610.00 742.45,609.97 742.70,609.93 742.95,609.90 743.20,609.88 743.45,609.85 743.70,609.83 743.95,609.81 744.20,609.79 744.45,609.78 744.70,609.77 744.95,609.77 745.20,609.77 745.45,609.77 745.70,609.78 745.95,609.79 746.20,609.80 746.45,609.81 746.70,609.83 746.95,609.85 747.20,609.86 747.45,609.88 747.70,609.90 747.95,609.92 748.20,609.93 748.45,609.95 748.70,609.96 748.95,609.97 749.20,609.97 749.45,609.97 749.70,609.97 749.95,609.96 750.20,609.95 750.45,609.94 750.70,609.92 750.95,609.90 751.20,609.87 751.45,609.84 751.70,609.81" fill="none" stroke="#000" stroke-width="2.65" stroke-linejoin="round"/>
<line x1="579.2" y1="765.3" x2="583.0" y2="765.3" stroke="#444" stroke-width="1.2"/>
<text transform="translate(576.4,770.6) scale(0.89,1)" text-anchor="end" class="yl">0.00</text>
<line x1="579.2" y1="740.1" x2="583.0" y2="740.1" stroke="#444" stroke-width="1.2"/>
<text transform="translate(576.4,745.4) scale(0.89,1)" text-anchor="end" class="yl">0.04</text>
<line x1="579.2" y1="714.9" x2="583.0" y2="714.9" stroke="#444" stroke-width="1.2"/>
<text transform="translate(576.4,720.2) scale(0.89,1)" text-anchor="end" class="yl">0.08</text>
<line x1="579.2" y1="689.6" x2="583.0" y2="689.6" stroke="#444" stroke-width="1.2"/>
<text transform="translate(576.4,694.9) scale(0.89,1)" text-anchor="end" class="yl">0.12</text>
<line x1="579.2" y1="664.4" x2="583.0" y2="664.4" stroke="#444" stroke-width="1.2"/>
<text transform="translate(576.4,669.7) scale(0.89,1)" text-anchor="end" class="yl">0.16</text>
<line x1="579.2" y1="639.2" x2="583.0" y2="639.2" stroke="#444" stroke-width="1.2"/>
<text transform="translate(576.4,644.5) scale(0.89,1)" text-anchor="end" class="yl">0.20</text>
<line x1="583.0" y1="638.6" x2="583.0" y2="771.8" stroke="#3a3a3a" stroke-width="1.9"/>
<text transform="translate(586.0,634.4) scale(1.05,1)" class="pt">60 min</text>
<line x1="586.2" y1="768.9" x2="750.2" y2="768.9" stroke="#e4e4e4" stroke-width="2.5"/>
<polyline points="586.20,766.35 586.45,766.35 586.70,766.35 586.95,766.36 587.20,766.36 587.45,766.38 587.70,766.39 587.95,766.41 588.20,766.43 588.45,766.45 588.70,766.47 588.95,766.50 589.20,766.52 589.45,766.55 589.70,766.57 589.95,766.60 590.20,766.62 590.45,766.64 590.70,766.65 590.95,766.67 591.20,766.68 591.45,766.68 591.70,766.69 591.95,766.68 592.20,766.68 592.45,766.66 592.70,766.65 592.95,766.63 593.20,766.60 593.45,766.57 593.70,766.53 593.95,766.48 594.20,766.41 594.45,766.32 594.70,766.18 594.95,765.99 595.20,765.72 595.45,765.36 595.70,764.90 595.95,764.38 596.20,763.82 596.45,763.29 596.70,762.86 596.95,762.60 597.20,762.53 597.45,762.52 597.70,762.54 597.95,762.58 598.20,762.65 598.45,762.75 598.70,762.87 598.95,763.00 599.20,763.16 599.45,763.32 599.70,763.51 599.95,763.70 600.20,763.90 600.45,764.10 600.70,764.31 600.95,764.52 601.20,764.74 601.45,764.97 601.70,765.19 601.95,765.43 602.20,765.67 602.45,765.91 602.70,766.15 602.95,766.40 603.20,766.63 603.45,766.85 603.70,767.04 603.95,767.21 604.20,767.33 604.45,767.42 604.70,767.46 604.95,767.45 605.20,767.41 605.45,767.33 605.70,767.22 605.95,767.09 606.20,766.96 606.45,766.82 606.70,766.69 606.95,766.57 607.20,766.46 607.45,766.37 607.70,766.30 607.95,766.24 608.20,766.19 608.45,766.15 608.70,766.12 608.95,766.11 609.20,766.09 609.45,766.09 609.70,766.09 609.95,766.09 610.20,766.09 610.45,766.08 610.70,766.03 610.95,765.89 611.20,765.63 611.45,765.19 611.70,764.60 611.95,763.95 612.20,763.42 612.45,763.19 612.70,763.36 612.95,763.87 613.20,764.59 613.45,765.34 613.70,766.01 613.95,766.59 614.20,767.13 614.45,767.63 614.70,768.04 614.95,768.24 615.20,768.12 615.45,767.68 615.70,766.90 615.95,765.73 616.20,764.01 616.45,761.67 616.70,758.86 616.95,756.10 617.20,754.14 617.45,753.62 617.70,754.37 617.95,756.04 618.20,758.25 618.45,760.57 618.70,762.68 618.95,764.42 619.20,765.77 619.45,766.78 619.70,767.45 619.95,767.78 620.20,767.74 620.45,767.45 620.70,767.05 620.95,766.67 621.20,766.40 621.45,766.22 621.70,766.10 621.95,766.01 622.20,765.91 622.45,765.81 622.70,765.69 622.95,765.56 623.20,765.42 623.45,765.28 623.70,765.14 623.95,765.00 624.20,764.89 624.45,764.80 624.70,764.75 624.95,764.74 625.20,764.77 625.45,764.85 625.70,764.96 625.95,765.11 626.20,765.28 626.45,765.47 626.70,765.68 626.95,765.89 627.20,766.10 627.45,766.30 627.70,766.49 627.95,766.67 628.20,766.81 628.45,766.93 628.70,767.00 628.95,767.02 629.20,767.00 629.45,766.94 629.70,766.85 629.95,766.73 630.20,766.60 630.45,766.47 630.70,766.34 630.95,766.22 631.20,766.12 631.45,766.04 631.70,765.97 631.95,765.92 632.20,765.88 632.45,765.84 632.70,765.82 632.95,765.80 633.20,765.79 633.45,765.78 633.70,765.78 633.95,765.78 634.20,765.79 634.45,765.81 634.70,765.83 634.95,765.85 635.20,765.88 635.45,765.91 635.70,765.95 635.95,765.99 636.20,766.03 636.45,766.07 636.70,766.11 636.95,766.16 637.20,766.19 637.45,766.22 637.70,766.24 637.95,766.23 638.20,766.20 638.45,766.13 638.70,766.04 638.95,765.93 639.20,765.81 639.45,765.70 639.70,765.62 639.95,765.60 640.20,765.63 640.45,765.71 640.70,765.84 640.95,765.98 641.20,766.13 641.45,766.26 641.70,766.36 641.95,766.43 642.20,766.47 642.45,766.49 642.70,766.50 642.95,766.49 643.20,766.47 643.45,766.45 643.70,766.43 643.95,766.42 644.20,766.40 644.45,766.38 644.70,766.37 644.95,766.36 645.20,766.35 645.45,766.35 645.70,766.34 645.95,766.35 646.20,766.35 646.45,766.36 646.70,766.38 646.95,766.39 647.20,766.41 647.45,766.43 647.70,766.46 647.95,766.48 648.20,766.48 648.45,766.45 648.70,766.28 648.95,765.87 649.20,765.04 649.45,763.75 649.70,762.21 649.95,760.90 650.20,760.39 650.45,760.79 650.70,761.83 650.95,763.17 651.20,764.44 651.45,765.43 651.70,766.06 651.95,766.41 652.20,766.56 652.45,766.60 652.70,766.60 652.95,766.57 653.20,766.54 653.45,766.50 653.70,766.46 653.95,766.41 654.20,766.36 654.45,766.32 654.70,766.27 654.95,766.22 655.20,766.17 655.45,766.12 655.70,766.08 655.95,766.04 656.20,766.00 656.45,765.96 656.70,765.93 656.95,765.90 657.20,765.88 657.45,765.86 657.70,765.85 657.95,765.84 658.20,765.83 658.45,765.83 658.70,765.84 658.95,765.85 659.20,765.87 659.45,765.88 659.70,765.90 659.95,765.93 660.20,765.96 660.45,765.98 660.70,766.01 660.95,766.04 661.20,766.07 661.45,766.10 661.70,766.13 661.95,766.16 662.20,766.19 662.45,766.21 662.70,766.23 662.95,766.25 663.20,766.26 663.45,766.27 663.70,766.28 663.95,766.28 664.20,766.28 664.45,766.28 664.70,766.27 664.95,766.26 665.20,766.25 665.45,766.23 665.70,766.21 665.95,766.20 666.20,766.18 666.45,766.16 666.70,766.14 666.95,766.12 667.20,766.10 667.45,766.09 667.70,766.07 667.95,766.06 668.20,766.05 668.45,766.05 668.70,766.05 668.95,766.05 669.20,766.06 669.45,766.07 669.70,766.09 669.95,766.11 670.20,766.13 670.45,766.16 670.70,766.19 670.95,766.23 671.20,766.27 671.45,766.31 671.70,766.35 671.95,766.40 672.20,766.44 672.45,766.49 672.70,766.53 672.95,766.58 673.20,766.62 673.45,766.66 673.70,766.69 673.95,766.73 674.20,766.76 674.45,766.78 674.70,766.81 674.95,766.82 675.20,766.83 675.45,766.84 675.70,766.84 675.95,766.84 676.20,766.83 676.45,766.82 676.70,766.80 676.95,766.78 677.20,766.75 677.45,766.72 677.70,766.69 677.95,766.65 678.20,766.61 678.45,766.57 678.70,766.54 678.95,766.50 679.20,766.46 679.45,766.42 679.70,766.38 679.95,766.35 680.20,766.32 680.45,766.29 680.70,766.26 680.95,766.24 681.20,766.22 681.45,766.21 681.70,766.20 681.95,766.19 682.20,766.19 682.45,766.19 682.70,766.19 682.95,766.20 683.20,766.21 683.45,766.22 683.70,766.24 683.95,766.25 684.20,766.27 684.45,766.29 684.70,766.31 684.95,766.32 685.20,766.34 685.45,766.35 685.70,766.36 685.95,766.37 686.20,766.38 686.45,766.38 686.70,766.38 686.95,766.37 687.20,766.37 687.45,766.35 687.70,766.34 687.95,766.32 688.20,766.29 688.45,766.27 688.70,766.24 688.95,766.21 689.20,766.17 689.45,766.14 689.70,766.10 689.95,766.06 690.20,766.02 690.45,765.99 690.70,765.95 690.95,765.92 691.20,765.88 691.45,765.86 691.70,765.83 691.95,765.81 692.20,765.79 692.45,765.78 692.70,765.77 692.95,765.77 693.20,765.77 693.45,765.78 693.70,765.79 693.95,765.80 694.20,765.83 694.45,765.85 694.70,765.88 694.95,765.92 695.20,765.96 695.45,766.00 695.70,766.04 695.95,766.08 696.20,766.13 696.45,766.18 696.70,766.22 696.95,766.27 697.20,766.31 697.45,766.35 697.70,766.39 697.95,766.40 698.20,766.30 698.45,765.66 698.70,763.24 698.95,756.96 699.20,745.89 699.45,733.69 699.70,727.99 699.95,729.18 700.20,733.07 700.45,738.66 700.70,744.74 700.95,750.30 701.20,754.75 701.45,757.98 701.70,760.13 701.95,761.40 702.20,762.10 702.45,762.49 702.70,762.74 702.95,762.95 703.20,763.14 703.45,763.33 703.70,763.54 703.95,763.75 704.20,763.96 704.45,764.16 704.70,764.36 704.95,764.55 705.20,764.72 705.45,764.88 705.70,765.02 705.95,765.15 706.20,765.26 706.45,765.35 706.70,765.43 706.95,765.49 707.20,765.54 707.45,765.58 707.70,765.61 707.95,765.64 708.20,765.65 708.45,765.67 708.70,765.68 708.95,765.69 709.20,765.70 709.45,765.70 709.70,765.71 709.95,765.72 710.20,765.73 710.45,765.75 710.70,765.76 710.95,765.77 711.20,765.79 711.45,765.81 711.70,765.82 711.95,765.84 712.20,765.85 712.45,765.86 712.70,765.87 712.95,765.88 713.20,765.89 713.45,765.89 713.70,765.88 713.95,765.85 714.20,765.77 714.45,765.53 714.70,764.99 714.95,764.01 715.20,762.56 715.45,760.94 715.70,759.68 715.95,759.34 716.20,759.76 716.45,760.68 716.70,761.87 716.95,763.06 717.20,764.07 717.45,764.82 717.70,765.30 717.95,765.59 718.20,765.75 718.45,765.85 718.70,765.96 718.95,766.13 719.20,766.43 719.45,766.87 719.70,767.40 719.95,767.85 720.20,768.04 720.45,767.90 720.70,767.47 720.95,766.77 721.20,765.42 721.45,761.87 721.70,752.73 721.95,733.29 722.20,701.07 722.45,661.42 722.70,629.13 722.95,620.09 723.20,631.02 723.45,654.29 723.70,683.28 723.95,711.19 724.20,733.45 724.45,748.58 724.70,757.40 724.95,761.77 725.20,763.51 725.45,763.96 725.70,763.94 725.95,763.88 726.20,763.91 726.45,764.02 726.70,764.20 726.95,764.43 727.20,764.69 727.45,764.96 727.70,765.21 727.95,765.43 728.20,765.61 728.45,765.75 728.70,765.86 728.95,765.94 729.20,766.01 729.45,766.06 729.70,766.11 729.95,766.15 730.20,766.19 730.45,766.23 730.70,766.27 730.95,766.32 731.20,766.36 731.45,766.41 731.70,766.45 731.95,766.50 732.20,766.55 732.45,766.59 732.70,766.63 732.95,766.67 733.20,766.70 733.45,766.74 733.70,766.77 733.95,766.79 734.20,766.81 734.45,766.82 734.70,766.83 734.95,766.83 735.20,766.83 735.45,766.83 735.70,766.81 735.95,766.80 736.20,766.78 736.45,766.75 736.70,766.73 736.95,766.70 737.20,766.66 737.45,766.63 737.70,766.59 737.95,766.55 738.20,766.51 738.45,766.48 738.70,766.44 738.95,766.41 739.20,766.37 739.45,766.34 739.70,766.31 739.95,766.29 740.20,766.27 740.45,766.25 740.70,766.24 740.95,766.23 741.20,766.22 741.45,766.22 741.70,766.22 741.95,766.23 742.20,766.23 742.45,766.24 742.70,766.26 742.95,766.27 743.20,766.29 743.45,766.31 743.70,766.32 743.95,766.34 744.20,766.36 744.45,766.37 744.70,766.38 744.95,766.40 745.20,766.40 745.45,766.41 745.70,766.41 745.95,766.41 746.20,766.41 746.45,766.40 746.70,766.38 746.95,766.37 747.20,766.35 747.45,766.32 747.70,766.29 747.95,766.26 748.20,766.23 748.45,766.19 748.70,766.16 748.95,766.12 749.20,766.08 749.45,766.04 749.70,766.00 749.95,765.96 750.20,765.93" fill="none" stroke="#000" stroke-width="2.65" stroke-linejoin="round"/>
<text transform="translate(620.1,135.7) rotate(-90) scale(0.797,1)" class="pl">4.4 HYPOXANTHINE</text>
<text transform="translate(638.5,132.4) rotate(-90) scale(0.797,1)" class="pl">7.6 URIC ACID</text>
<text transform="translate(655.0,127.2) rotate(-90) scale(0.797,1)" class="pl">8.3 INOSINE</text>
<text transform="translate(706.2,133.6) rotate(-90) scale(0.797,1)" class="pl">14.2 ADO</text>
<text transform="translate(715.1,76.1) rotate(-90) scale(0.797,1)" class="pl">15.8 AMP</text>
<text transform="translate(739.0,118.5) rotate(-90) scale(0.785,1)" class="pl">16.7 THEOPHYLLINE</text>
<text transform="translate(622.7,281.5) rotate(-90) scale(0.797,1)" class="pl">4.4 HYPOXANTHINE</text>
<text transform="translate(640.8,278.2) rotate(-90) scale(0.797,1)" class="pl">7.6 URIC ACID</text>
<text transform="translate(657.9,273.0) rotate(-90) scale(0.797,1)" class="pl">8.3 INOSINE</text>
<text transform="translate(700.0,273.3) rotate(-90) scale(0.797,1)" class="pl">14.2 ADO</text>
<text transform="translate(716.0,241.1) rotate(-90) scale(0.797,1)" class="pl">15.8 AMP</text>
<text transform="translate(736.2,257.9) rotate(-90) scale(0.785,1)" class="pl">16.7 THEOPHYLLINE</text>
<text transform="translate(621.0,438.5) rotate(-90) scale(0.797,1)" class="pl">4.4 HYPOXANTHINE</text>
<text transform="translate(639.1,435.2) rotate(-90) scale(0.797,1)" class="pl">7.6 URIC ACID</text>
<text transform="translate(655.9,430.0) rotate(-90) scale(0.797,1)" class="pl">8.3 INOSINE</text>
<text transform="translate(699.2,405.6) rotate(-90) scale(0.797,1)" class="pl">14.2 ADO</text>
<text transform="translate(715.2,425.4) rotate(-90) scale(0.797,1)" class="pl">15.8 AMP</text>
<text transform="translate(735.9,403.7) rotate(-90) scale(0.785,1)" class="pl">16.7 THEOPHYLLINE</text>
<text transform="translate(621.8,598.1) rotate(-90) scale(0.797,1)" class="pl">4.4 HYPOXANTHINE</text>
<text transform="translate(639.1,594.8) rotate(-90) scale(0.797,1)" class="pl">7.6 URIC ACID</text>
<text transform="translate(656.1,590.2) rotate(-90) scale(0.797,1)" class="pl">8.3 INOSINE</text>
<text transform="translate(699.2,566.3) rotate(-90) scale(0.797,1)" class="pl">14.2 ADO</text>
<text transform="translate(716.7,586.1) rotate(-90) scale(0.797,1)" class="pl">15.8 AMP</text>
<text transform="translate(735.9,563.4) rotate(-90) scale(0.785,1)" class="pl">16.7 THEOPHYLLINE</text>
<text transform="translate(622.0,747.8) rotate(-90) scale(0.797,1)" class="pl">4.4 HYPOXANTHINE</text>
<text transform="translate(640.4,744.6) rotate(-90) scale(0.797,1)" class="pl">7.6 URIC ACID</text>
<text transform="translate(656.9,739.3) rotate(-90) scale(0.797,1)" class="pl">8.3 INOSINE</text>
<text transform="translate(700.0,719.2) rotate(-90) scale(0.797,1)" class="pl">14.2 ADO</text>
<text transform="translate(717.1,739.2) rotate(-90) scale(0.797,1)" class="pl">15.8 AMP</text>
<text transform="translate(736.1,717.2) rotate(-90) scale(0.785,1)" class="pl">16.7 THEOPHYLLINE</text>
<line x1="585.3" y1="771.7" x2="758.1" y2="771.7" stroke="#222" stroke-width="1.7"/>
<line x1="589.8" y1="773.6" x2="589.8" y2="776.6" stroke="#000" stroke-width="2" stroke-linecap="round"/>
<text transform="translate(595.8,778.4) rotate(-90) scale(0.86,1)" text-anchor="end" class="xl">0.30</text>
<line x1="613.4" y1="773.6" x2="613.4" y2="776.6" stroke="#000" stroke-width="2" stroke-linecap="round"/>
<text transform="translate(619.4,778.4) rotate(-90) scale(0.86,1)" text-anchor="end" class="xl">3.30</text>
<line x1="636.9" y1="773.6" x2="636.9" y2="776.6" stroke="#000" stroke-width="2" stroke-linecap="round"/>
<text transform="translate(642.9,778.4) rotate(-90) scale(0.86,1)" text-anchor="end" class="xl">6.30</text>
<line x1="661.2" y1="773.6" x2="661.2" y2="776.6" stroke="#000" stroke-width="2" stroke-linecap="round"/>
<text transform="translate(667.2,778.4) rotate(-90) scale(0.86,1)" text-anchor="end" class="xl">9.30</text>
<line x1="685.0" y1="773.6" x2="685.0" y2="776.6" stroke="#000" stroke-width="2" stroke-linecap="round"/>
<text transform="translate(691.0,778.4) rotate(-90) scale(0.86,1)" text-anchor="end" class="xl">12.30</text>
<line x1="709.1" y1="773.6" x2="709.1" y2="776.6" stroke="#000" stroke-width="2" stroke-linecap="round"/>
<text transform="translate(715.1,778.4) rotate(-90) scale(0.86,1)" text-anchor="end" class="xl">15.30</text>
<line x1="733.1" y1="773.6" x2="733.1" y2="776.6" stroke="#000" stroke-width="2" stroke-linecap="round"/>
<text transform="translate(739.1,778.4) rotate(-90) scale(0.86,1)" text-anchor="end" class="xl">18.30</text>
<text x="601.7" y="842.4" class="rt">TIME (minutes)</text>
<text transform="translate(536.5,495.4) rotate(-90)" class="rt" style="font-size:18.6px;letter-spacing:0px">ABSORBANCE</text>
</svg>
</body></html>
